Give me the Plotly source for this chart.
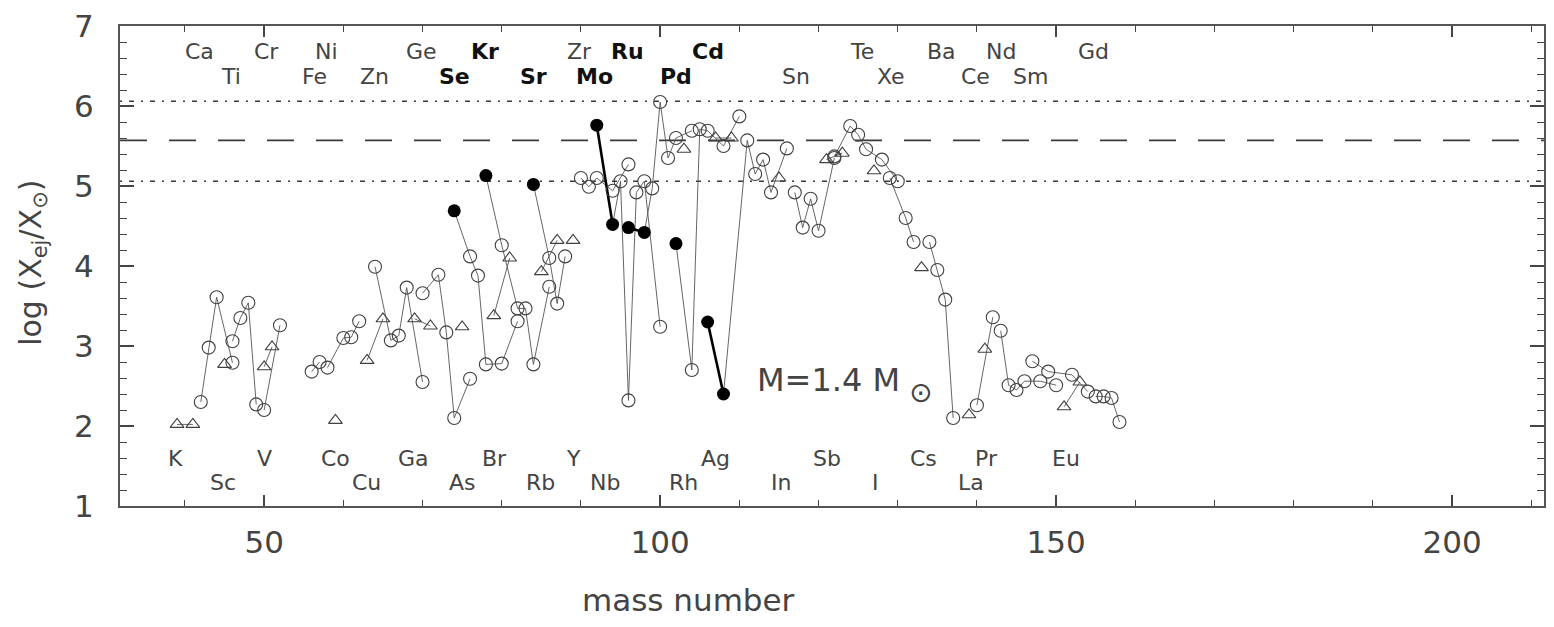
import plotly.graph_objects as go

# ---------------- data ----------------
iso_element = (["K"] * 2 + ["Ca"] * 4 + ["Sc"] + ["Ti"] * 4 + ["V"] * 2 + ["Cr"] * 2 +
               ["Fe"] * 2 + ["Ni"] * 4 + ["Co"] + ["Cu"] * 2 + ["Zn"] * 5 + ["Ga"] * 2 +
               ["Ge"] * 5 + ["As"] + ["Se"] * 6 + ["Br"] * 2 + ["Kr"] * 6 + ["Rb"] * 2 +
               ["Sr"] * 4 + ["Y"] + ["Zr"] * 5 + ["Mo"] * 7 + ["Ru"] * 7 + ["Rh"] +
               ["Pd"] * 6 + ["Ag"] * 2 + ["Cd"] * 7 + ["In"] + ["Sn"] * 5 + ["Sb"] * 2 +
               ["Te"] * 6 + ["I"] + ["Xe"] * 3 + ["Cs"] + ["Ba"] * 4 + ["La"] + ["Ce"] * 2 +
               ["Pr"] + ["Nd"] * 6 + ["Sm"] * 4 + ["Eu"] * 2 + ["Gd"] * 4)

iso_mass = [39, 41,
            42, 43, 44, 46,
            45,
            46, 47, 48, 49,
            50, 51,
            50, 52,
            56, 57,
            58, 60, 61, 62,
            59,
            63, 65,
            64, 66, 67, 68, 70,
            69, 71,
            70, 72, 73, 74, 76,
            75,
            74, 76, 77, 78, 80, 82,
            79, 81,
            78, 80, 82, 83, 84, 86,
            85, 87,
            84, 86, 87, 88,
            89,
            90, 91, 92, 94, 96,
            92, 94, 95, 96, 97, 98, 100,
            96, 98, 99, 100, 101, 102, 104,
            103,
            102, 104, 105, 106, 108, 110,
            107, 109,
            106, 108, 111, 112, 113, 114, 116,
            115,
            117, 118, 119, 120, 122,
            121, 123,
            122, 124, 125, 126, 128, 130,
            127,
            129, 131, 132,
            133,
            134, 135, 136, 137,
            139,
            140, 142,
            141,
            143, 144, 145, 146, 148, 150,
            147, 149, 152, 154,
            151, 153,
            155, 156, 157, 158]

iso_logx = [2.02, 2.02,
            2.30, 2.98, 3.61, 2.79,
            2.77,
            3.06, 3.35, 3.54, 2.27,
            2.74, 2.99,
            2.20, 3.26,
            2.68, 2.80,
            2.73, 3.10, 3.11, 3.31,
            2.07,
            2.82, 3.34,
            3.99, 3.07, 3.13, 3.73, 2.55,
            3.34, 3.25,
            3.66, 3.89, 3.17, 2.10, 2.59,
            3.24,
            4.69, 4.12, 3.88, 2.77, 2.78, 3.31,
            3.38, 4.10,
            5.13, 4.26, 3.47, 3.47, 2.77, 3.74,
            3.93, 4.32,
            5.02, 4.10, 3.53, 4.12,
            4.32,
            5.10, 4.99, 5.10, 4.94, 5.27,
            5.76, 4.52, 5.06, 2.32, 4.92, 5.06, 3.24,
            4.48, 4.42, 4.97, 6.05, 5.35, 5.60, 5.69,
            5.46,
            4.28, 2.70, 5.71, 5.69, 5.50, 5.87,
            5.60, 5.60,
            3.30, 2.40, 5.57, 5.15, 5.33, 4.92, 5.47,
            5.10,
            4.92, 4.48, 4.84, 4.44, 5.35,
            5.33, 5.41,
            5.37, 5.75, 5.64, 5.46, 5.33, 5.06,
            5.19,
            5.10, 4.60, 4.30,
            3.98,
            4.30, 3.95, 3.58, 2.10,
            2.14,
            2.26, 3.36,
            2.96,
            3.19, 2.51, 2.45, 2.56, 2.56, 2.51,
            2.81, 2.68, 2.64, 2.43,
            2.24, 2.55,
            2.37, 2.37, 2.35, 2.05]

# o = open circle, t = open triangle, f = filled circle
iso_kind = (["t"] * 2 + ["o"] * 4 + ["t"] + ["o"] * 4 + ["t"] * 2 + ["o"] * 2 +
            ["o"] * 2 + ["o"] * 4 + ["t"] + ["t"] * 2 + ["o"] * 5 + ["t"] * 2 +
            ["o"] * 5 + ["t"] + ["f"] + ["o"] * 5 + ["t"] * 2 + ["f"] + ["o"] * 5 + ["t"] * 2 +
            ["f"] + ["o"] * 3 + ["t"] + ["o"] * 5 + ["f", "f"] + ["o"] * 5 + ["f", "f"] + ["o"] * 5 +
            ["t"] + ["f"] + ["o"] * 5 + ["t"] * 2 + ["f", "f"] + ["o"] * 5 + ["t"] + ["o"] * 5 +
            ["t"] * 2 + ["o"] * 6 + ["t"] + ["o"] * 3 + ["t"] + ["o"] * 4 + ["t"] + ["o"] * 2 +
            ["t"] + ["o"] * 6 + ["o"] * 4 + ["t"] * 2 + ["o"] * 4)

dotted_levels = [6.06, 5.06]
dashed_level = 5.57

label_text = ["Ca", "Cr", "Ni", "Ge", "Kr", "Zr", "Ru", "Cd", "Te", "Ba", "Nd", "Gd",
              "Ti", "Fe", "Zn", "Se", "Sr", "Mo", "Pd", "Sn", "Xe", "Ce", "Sm",
              "K", "V", "Co", "Ga", "Br", "Y", "Ag", "Sb", "Cs", "Pr", "Eu",
              "Sc", "Cu", "As", "Rb", "Nb", "Rh", "In", "I", "La"]
label_mass = [41.8, 50.3, 57.9, 69.9, 77.9, 89.8, 95.9, 106.0, 125.5, 135.5, 143.1, 154.7,
              45.8, 56.4, 63.9, 74.0, 84.0, 91.7, 102.0, 117.1, 129.2, 139.8, 146.7,
              38.8, 50.0, 59.0, 68.9, 79.1, 89.1, 107.0, 121.1, 133.2, 141.2, 151.3,
              44.8, 62.9, 75.0, 84.9, 93.0, 103.0, 115.2, 127.2, 139.2]
label_row = [0] * 12 + [1] * 11 + [2] * 11 + [3] * 9
bold_labels = ["Kr", "Ru", "Cd", "Se", "Sr", "Mo", "Pd"]

x_ticks = [50, 100, 150, 200]
y_ticks = [1, 2, 3, 4, 5, 6, 7]

# ---------------- figure ----------------
INK = "#3a3a3a"
FONT = "DejaVu Sans"
row_y = {0: 6.68, 1: 6.37, 2: 1.59, 3: 1.29}

fig = go.Figure()

# reference levels
for lv in dotted_levels:
    fig.add_shape(type="line", xref="paper", x0=0, x1=1, yref="y", y0=lv, y1=lv,
                  line=dict(color=INK, width=1.6, dash="2px,7px,5px,7px"), layer="below")
fig.add_shape(type="line", xref="paper", x0=0, x1=1, yref="y", y0=dashed_level, y1=dashed_level,
              line=dict(color=INK, width=1.6, dash="27px,22px"), layer="below")

# thin connecting lines per element
order = []
for e in iso_element:
    if e not in order:
        order.append(e)
lx, ly = [], []
tx, ty = [], []
for e in order:
    idx = [i for i, el in enumerate(iso_element) if el == e]
    idx.sort(key=lambda i: iso_mass[i])
    for i in idx:
        lx.append(iso_mass[i]); ly.append(iso_logx[i])
    lx.append(None); ly.append(None)
    filled = [i for i in idx if iso_kind[i] == "f"]
    if len(filled) > 1:
        for i in filled:
            tx.append(iso_mass[i]); ty.append(iso_logx[i])
        tx.append(None); ty.append(None)

fig.add_trace(go.Scatter(x=lx, y=ly, mode="lines", line=dict(color="#555555", width=0.9),
                         hoverinfo="skip", showlegend=False))
fig.add_trace(go.Scatter(x=tx, y=ty, mode="lines", line=dict(color="black", width=2.6),
                         hoverinfo="skip", showlegend=False))

kinds = {"o": dict(symbol="circle-open", size=13, color="#404040", line=dict(width=1.1, color="#404040")),
         "t": dict(symbol="triangle-up-open", size=12, color="#404040", line=dict(width=1.1, color="#404040")),
         "f": dict(symbol="circle", size=13, color="black", line=dict(width=0, color="black"))}
for k, mk in kinds.items():
    xs = [m for m, kk in zip(iso_mass, iso_kind) if kk == k]
    ys = [v for v, kk in zip(iso_logx, iso_kind) if kk == k]
    fig.add_trace(go.Scatter(x=xs, y=ys, mode="markers", marker=mk, showlegend=False))

# element labels
for t, m, r in zip(label_text, label_mass, label_row):
    txt = f"<b>{t}</b>" if t in bold_labels else t
    fig.add_annotation(x=m, y=row_y[r], xref="x", yref="y", text=txt, showarrow=False,
                       xanchor="center", yanchor="middle",
                       font=dict(family=FONT, size=22, color="#111" if t in bold_labels else "#444"))

# mass annotation
fig.add_annotation(x=112.0, y=2.57, xref="x", yref="y", text="M=1.4 M", showarrow=False,
                   xanchor="left", yanchor="middle", font=dict(family=FONT, size=32, color="#444"))
fig.add_annotation(x=132.85, y=2.42, xref="x", yref="y", text="\u2299", showarrow=False,
                   xanchor="center", yanchor="middle", font=dict(family=FONT, size=28, color="#444"))

# axis titles
fig.add_annotation(x=0.399, y=-0.195, xref="paper", yref="paper", text="mass number",
                   showarrow=False, xanchor="center", yanchor="middle",
                   font=dict(family=FONT, size=31, color="#444"))
fig.add_annotation(x=-0.062, y=0.506, xref="paper", yref="paper",
                   text="log (X<sub>ej</sub>/X<sub>\u2299</sub>)", textangle=-90,
                   showarrow=False, xanchor="center", yanchor="middle",
                   font=dict(family=FONT, size=30, color="#444"))

axis_common = dict(showline=True, linecolor="#555", linewidth=2, mirror="ticks",
                   ticks="inside", tickcolor="#444", showgrid=False, zeroline=False,
                   tickfont=dict(family=FONT, size=31, color="#444"))
fig.update_xaxes(range=[31.8, 211.6], tickvals=x_ticks, ticklen=11, tickwidth=1.6,
                 ticklabelstandoff=8,
                 minor=dict(dtick=10, ticklen=6, tickwidth=1.4, tickcolor="#444", ticks="inside"),
                 **axis_common)
fig.update_yaxes(range=[1, 7], tickvals=y_ticks, ticklen=14, tickwidth=1.6,
                 ticklabelstandoff=18,
                 minor=dict(dtick=0.2, ticklen=7, tickwidth=1.4, tickcolor="#444", ticks="inside"),
                 **axis_common)

fig.update_layout(width=1554, height=627, margin=dict(l=120, r=8, t=24, b=121),
                  plot_bgcolor="white", paper_bgcolor="white", showlegend=False)

fig.write_html("out.html")
